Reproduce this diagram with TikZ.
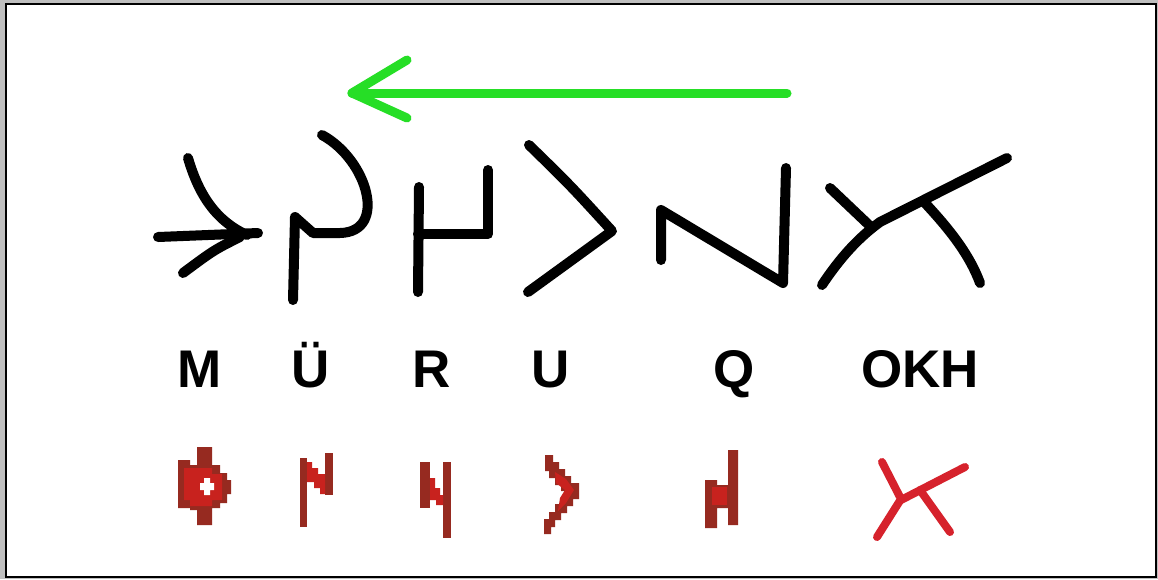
\documentclass[tikz,border=0pt]{standalone}
\usepackage{fontspec}
\setmainfont{Liberation Sans}
\definecolor{arrowgreen}{RGB}{38,222,38}
\definecolor{runebrown}{RGB}{150,42,32}
\definecolor{runered}{RGB}{200,34,30}
\definecolor{okhred}{RGB}{214,34,44}
\begin{document}
\begin{tikzpicture}[x=1pt,y=-1pt,
  glyph/.style={line width=10pt,line cap=round,line join=round,black},
  lab/.style={anchor=base,inner sep=0pt,font=\fontsize{53}{60}\selectfont\bfseries},
  arrowline/.style={line width=9pt,line cap=round,line join=round,arrowgreen},
  rune/.style={fill=runebrown,draw=none},
  runehi/.style={fill=runered,draw=none},
  okh/.style={line width=8pt,line cap=round,line join=round,okhred}]
\useasboundingbox (0,0) rectangle (1158,579);
\fill[black!25] (0,0) rectangle (1158,579);
\draw[fill=white,line width=2pt] (6,4) rectangle (1156,577);

% green arrow
\coordinate (aStart) at (787,93);
\coordinate (aTip) at (352,93);
\coordinate (aUp) at (407,60);
\coordinate (aDn) at (407,118);
\draw[arrowline] (aStart) -- (aTip);
\draw[arrowline] (aUp) -- (aTip) -- (aDn);

% black glyphs
% M
\draw[glyph] (158,237) -- (258,233);
\draw[glyph] (188,158) .. controls (198,192) and (214,220) .. (247,235);
\draw[glyph] (240,237) .. controls (214,250) .. (183,273);
% U-umlaut
\draw[glyph] (322,135) .. controls (368,160) and (388,232) .. (340,233) -- (313,233) -- (295,217) -- (293,300);
% R
\draw[glyph] (419,187) -- (418,292);
\draw[glyph] (418,234) -- (488,234) -- (488,170);
% U
\draw[glyph] (529,145) .. controls (570,185) .. (612,231) .. controls (570,262) .. (528,292);
% Q
\draw[glyph] (661,260) -- (661,210) -- (783,283) -- (786,168);
% OKH
\draw[glyph] (1007,158) -- (880,222) .. controls (858,238) and (840,258) .. (822,285);
\draw[glyph] (830,188) -- (870,226);
\draw[glyph] (925,203) .. controls (952,232) and (970,256) .. (980,283);

% labels
\node[lab] (lM) at (200,387) {M};
\node[lab] (lUe) at (311,387) {Ü};
\node[lab] (lR) at (432,387) {R};
\node[lab] (lU) at (551,387) {U};
\node[lab] (lQ) at (734,387) {Q};
\node[lab] (lOKH) at (920,387) {OKH};

% red runes
% M
\fill[rune] (197,447) -- (212,447) -- (212,465) -- (220,465) -- (220,473) -- (227,473) -- (227,480) -- (231,480) -- (231,494) -- (227,494) -- (227,503) -- (220,503) -- (220,508) -- (212,508) -- (212,525) -- (197,525) -- (197,510) -- (190,510) -- (190,508) -- (178,508) -- (178,460) -- (190,460) -- (190,465) -- (197,465) -- cycle;
\fill[runehi] (184,468) -- (212,468) -- (212,474) -- (222,474) -- (222,500) -- (212,500) -- (212,506) -- (190,506) -- (190,500) -- (184,500) -- cycle;
\fill[white] (204,478) -- (210,478) -- (210,483) -- (214,483) -- (214,490) -- (210,490) -- (210,495) -- (204,495) -- (204,490) -- (200,490) -- (200,483) -- (204,483) -- cycle;
% U-umlaut
\fill[rune] (300,458) rectangle (307,527);
\fill[rune] (325,453) rectangle (333,495);
\fill[runehi] (307,462) -- (312,462) -- (312,468) -- (318,468) -- (318,474) -- (325,474) -- (325,494) -- (320,494) -- (320,488) -- (314,488) -- (314,482) -- (307,482) -- cycle;
% R
\fill[rune] (420,462) rectangle (430,508);
\fill[rune] (443,462) rectangle (451,538);
\fill[runehi] (430,478) -- (435,478) -- (435,488) -- (440,488) -- (440,495) -- (443,495) -- (443,505) -- (436,505) -- (436,500) -- (430,500) -- cycle;
% U
\fill[rune] (545,455) -- (553,455) -- (553,462) -- (559,462) -- (559,469) -- (565,469) -- (565,476) -- (571,476) -- (571,483) -- (579,483) -- (579,499) -- (573,499) -- (573,506) -- (567,506) -- (567,513) -- (561,513) -- (561,520) -- (555,520) -- (555,527) -- (551,527) -- (551,534) -- (544,534) -- (544,519) -- (549,519) -- (549,512) -- (555,512) -- (555,504) -- (561,504) -- (561,497) -- (565,497) -- (565,491) -- (561,491) -- (561,485) -- (555,485) -- (555,478) -- (549,478) -- (549,471) -- (545,471) -- cycle;
\fill[runehi] (555,472) -- (566,479) -- (574,490) -- (566,503) -- (558,511) -- (560,498) -- (565,490) -- (556,483) -- cycle;
% Q
\fill[rune] (705,480) -- (717,480) -- (717,485) -- (728,485) -- (728,450) -- (738,450) -- (738,525) -- (728,525) -- (728,508) -- (717,508) -- (717,528) -- (705,528) -- cycle;
\fill[runehi] (712,487) rectangle (727,505);
% OKH
\draw[okh] (882,462) -- (901,499) -- (877,537);
\draw[okh] (965,467) -- (901,500);
\draw[okh] (920,490) -- (950,532);
\end{tikzpicture}
\end{document}
